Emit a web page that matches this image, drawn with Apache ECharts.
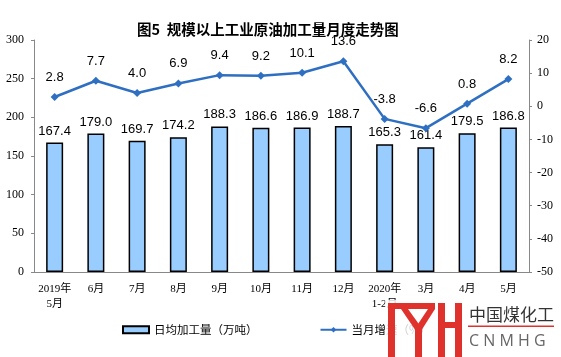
<!DOCTYPE html>
<html><head><meta charset="utf-8">
<script src="https://cdn.jsdelivr.net/npm/echarts@6/dist/echarts.min.js"></script>
<style>html,body{margin:0;padding:0;background:#fff}#c{width:561px;height:357px}</style>
</head><body><div id="c"></div>
<script>
const categories = ['2019年\n5月','6月','7月','8月','9月','10月','11月','12月','2020年\n1-2月','3月','4月','5月'];
const dailyOutput = [167.4,179.0,169.7,174.2,188.3,186.6,186.9,188.7,165.3,161.4,179.5,186.8];
const growthRate = [2.8,7.7,4.0,6.9,9.4,9.2,10.1,13.6,-3.8,-6.6,0.8,8.2];
const titleText = '图5  规模以上工业原油加工量月度走势图';
const seriesNames = ['日均加工量（万吨）','当月增速（%）'];

const chart = echarts.init(document.getElementById('c'), null, {renderer:'canvas'});
const serif = '"Liberation Serif","Times New Roman","Noto Sans CJK SC",serif';
const sans = '"Liberation Sans",Arial,"Noto Sans CJK SC",sans-serif';
chart.setOption({
  animation:false,
  backgroundColor:'#fff',
  title:{text:titleText,left:132,top:17,textStyle:{fontFamily:'"Noto Sans CJK SC",sans-serif',fontSize:14.5,fontWeight:'bold',color:'#000'}},
  grid:{left:34,right:32,top:40,bottom:85,containLabel:false},
  legend:{left:117,top:319,itemWidth:26,itemHeight:7,itemGap:62,
    textStyle:{fontFamily:'"Noto Sans CJK SC",sans-serif',fontSize:11.5,color:'#000'},
    data:[{name:seriesNames[0],icon:'rect'},{name:seriesNames[1]}]},
  xAxis:{type:'category',data:categories,boundaryGap:true,
    axisLine:{lineStyle:{color:'#888',width:1}},
    axisTick:{inside:true,length:3,lineStyle:{color:'#888'}},
    axisLabel:{fontFamily:serif,fontSize:11,color:'#000',margin:10,lineHeight:15,interval:0}},
  yAxis:[
    {type:'value',min:0,max:300,interval:50,
      axisLine:{show:true,lineStyle:{color:'#888'}},
      axisTick:{show:true,length:3,lineStyle:{color:'#888'}},
      splitLine:{show:false},
      axisLabel:{fontFamily:serif,fontSize:12,color:'#000',margin:10}},
    {type:'value',min:-50,max:20,interval:10,position:'right',
      axisLine:{show:true,lineStyle:{color:'#888'}},
      axisTick:{show:true,length:3,lineStyle:{color:'#888'}},
      splitLine:{show:false},
      axisLabel:{fontFamily:serif,fontSize:12,color:'#000',margin:8}}
  ],
  series:[
    {name:seriesNames[0],type:'bar',data:dailyOutput,barWidth:17,yAxisIndex:0,
      itemStyle:{color:'#99ccff',borderColor:'#000',borderWidth:1.5},
      label:{show:true,position:'top',distance:5,fontFamily:sans,fontSize:13,color:'#000',formatter:p=>p.value.toFixed(1)}},
    {name:seriesNames[1],type:'line',data:growthRate,yAxisIndex:1,
      symbol:'diamond',symbolSize:8,
      lineStyle:{color:'#2e6fc2',width:2.5},itemStyle:{color:'#2e6fc2'},
      label:{show:true,position:'top',distance:9,fontFamily:sans,fontSize:13,color:'#000',formatter:p=>p.value.toFixed(1)}}
  ],
  graphic:[
    {type:'rect',shape:{x:385,y:300,width:176,height:57},style:{fill:'rgba(255,255,255,0.8)'},z:100},
    {type:'rect',shape:{x:388,y:303,width:7,height:54},style:{fill:'#e0322d'},z:101},
    {type:'rect',shape:{x:388,y:303,width:47,height:6},style:{fill:'#e0322d'},z:101},
    {type:'polygon',shape:{points:[[401,309],[408,309],[421,327],[416,331]]},style:{fill:'#e0322d'},z:101},
    {type:'polygon',shape:{points:[[428,309],[435,309],[421,331],[416,327]]},style:{fill:'#e0322d'},z:101},
    {type:'rect',shape:{x:415,y:326,width:7,height:31},style:{fill:'#e0322d'},z:101},
    {type:'rect',shape:{x:438,y:303,width:7,height:54},style:{fill:'#e0322d'},z:101},
    {type:'rect',shape:{x:455,y:303,width:7,height:54},style:{fill:'#e0322d'},z:101},
    {type:'rect',shape:{x:438,y:322,width:24,height:6},style:{fill:'#e0322d'},z:101},
    {type:'text',x:469,y:315,style:{text:'中国煤化工',fontFamily:'"Noto Sans CJK SC",sans-serif',fontSize:17,fill:'#333',verticalAlign:'middle'},z:101},
    {type:'rect',shape:{x:468,y:325.5,width:86,height:1.5},style:{fill:'#e0322d'},z:101},
    {type:'text',x:469,y:341,style:{text:'C N M H G',fontFamily:'"Open Sans",sans-serif',fontSize:16,fill:'#666',verticalAlign:'middle'},z:101}
  ]
});
</script></body></html>
